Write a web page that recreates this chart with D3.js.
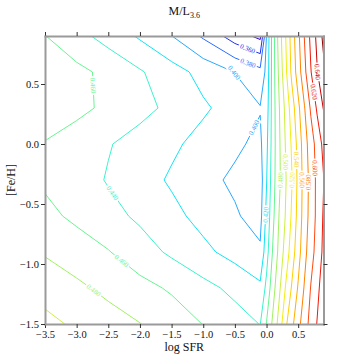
<!DOCTYPE html>
<html>
<head>
<meta charset="utf-8">
<script src="https://cdn.jsdelivr.net/npm/d3@7"></script>
<style>
  body { margin: 0; background: #fff; }
</style>
</head>
<body>
<svg width="360" height="360"></svg>
<script>
// grid of the model: log SFR columns and [Fe/H] rows
const logSFR = [-3.5, -3.0, -2.5, -2.0, -1.5, -1.0, -0.5, -0.1, 0.0, 0.1, 0.2, 0.3, 0.4, 0.5, 0.6, 0.7, 0.8, 0.9];
const feh = [-1.5, -1.2, -0.9, -0.6, -0.3, 0.0, 0.3, 0.6, 0.9];

// M/L(3.6), one array per [Fe/H] row (bottom to top)
const mlFeHm15 = [0.505, 0.497, 0.4885, 0.4805, 0.4705, 0.4595, 0.4485, 0.4395, 0.461, 0.484, 0.508, 0.536, 0.555, 0.574, 0.591, 0.607, 0.621, 0.635];
const mlFeHm12 = [0.493, 0.484, 0.475, 0.466, 0.4575, 0.446, 0.435, 0.424, 0.445, 0.472, 0.496, 0.521, 0.542, 0.562, 0.582, 0.601, 0.615, 0.630];
const mlFeHm09 = [0.478, 0.4695, 0.461, 0.449, 0.4365, 0.4246, 0.413, 0.403, 0.432, 0.462, 0.486, 0.508, 0.530, 0.552, 0.574, 0.592, 0.608, 0.624];
const mlFeHm06 = [0.465, 0.456, 0.4464, 0.4364, 0.4253, 0.4138, 0.402, 0.393, 0.425, 0.455, 0.481, 0.501, 0.523, 0.547, 0.570, 0.588, 0.605, 0.622];
const mlFeHm03 = [0.457, 0.449, 0.4385, 0.428, 0.4175, 0.405, 0.397, 0.390, 0.419, 0.452, 0.476, 0.498, 0.519, 0.545, 0.569, 0.587, 0.605, 0.619];
const mlFeH00 = [0.459, 0.4507, 0.4413, 0.4324, 0.4235, 0.4136, 0.403, 0.396, 0.415, 0.450, 0.477, 0.501, 0.523, 0.547, 0.572, 0.590, 0.608, 0.625];
const mlFeH03 = [0.470, 0.465, 0.456, 0.446, 0.4355, 0.4228, 0.412, 0.401, 0.410, 0.450, 0.479, 0.505, 0.530, 0.555, 0.579, 0.603, 0.623, 0.641];
const mlFeH06 = [0.468, 0.465, 0.455, 0.442, 0.428, 0.4137, 0.3995, 0.386, 0.405, 0.450, 0.485, 0.515, 0.545, 0.570, 0.595, 0.619, 0.639, 0.655];
const mlFeH09 = [0.4605, 0.4465, 0.4324, 0.4173, 0.4003, 0.3771, 0.3497, 0.335, 0.401, 0.450, 0.490, 0.519, 0.549, 0.575, 0.601, 0.625, 0.645, 0.665];

const levels = [0.34, 0.36, 0.38, 0.40, 0.42, 0.44, 0.46, 0.48, 0.50, 0.52, 0.54, 0.56, 0.58, 0.60, 0.62, 0.64, 0.66];
const xTicks = [-3.5, -3.0, -2.5, -2.0, -1.5, -1.0, -0.5, 0.0, 0.5];
const yTicks = [-1.5, -1.0, -0.5, 0.0, 0.5];

// contour labels: [level, log SFR, [Fe/H]] near where the label sits
const labelSpots = [
  [0.46, -2.65, 0.49], [0.44, -2.38, -0.39], [0.46, -2.30, -0.98], [0.48, -2.69, -1.19],
  [0.40, -0.50, 0.60], [0.38, -0.28, 0.69], [0.36, -0.28, 0.82], [0.40, -0.25, 0.15],
  [0.42, 0.00, -0.59], [0.48, 0.20, -0.30], [0.50, 0.34, -0.15], [0.52, 0.40, -0.30],
  [0.54, 0.48, -0.13], [0.56, 0.54, -0.30], [0.58, 0.62, -0.32], [0.60, 0.80, -0.20],
  [0.62, 0.69, 0.43], [0.64, 0.80, 0.60]
];

const svg = d3.select("svg");
const serif = "'Liberation Serif', 'DejaVu Serif', serif";

const x = d3.scaleLinear().domain([-3.5, 0.9]).range([45, 323.5]);
const y = d3.scaleLinear().domain([-1.5, 0.9]).range([324, 36]);

const color = d3.scaleLinear()
  .domain(levels)
  .range(["#3000c0", "#2030f0", "#2a6cff", "#28a8ff", "#10e4f4", "#38f4cc", "#66f690", "#a2f062",
          "#ccf040", "#f2ee10", "#ffd000", "#ffac00", "#ff8000", "#ff4a10", "#f01808", "#c80000", "#8c0000"]);

const defs = svg.append("defs");
defs.append("clipPath").attr("id", "plot")
  .append("rect")
  .attr("x", x.range()[0]).attr("y", y.range()[1])
  .attr("width", x.range()[1] - x.range()[0])
  .attr("height", y.range()[0] - y.range()[1]);

// contours on the (non uniform) grid
const nx = logSFR.length, ny = feh.length;
const grid = [mlFeHm15, mlFeHm12, mlFeHm09, mlFeHm06, mlFeHm03, mlFeH00, mlFeH03, mlFeH06, mlFeH09].flat();
const ix = d3.scaleLinear().domain(d3.range(nx)).range(logSFR).clamp(true);
const iy = d3.scaleLinear().domain(d3.range(ny)).range(feh).clamp(true);
const toPx = ([cx, cy]) => [x(ix(cx - 0.5)), y(iy(cy - 0.5))];

const bands = d3.contours().size([nx, ny]).thresholds(levels)(grid);

const [xl, xr] = x.range(), [yb, yt] = y.range();
const near = (a, b) => Math.abs(a - b) < 0.01;
const onEdge = (a, b) =>
  (near(a[0], xl) && near(b[0], xl)) || (near(a[0], xr) && near(b[0], xr)) ||
  (near(a[1], yb) && near(b[1], yb)) || (near(a[1], yt) && near(b[1], yt));

const segsByLevel = bands.map(band => {
  const segs = [];
  band.coordinates.forEach(poly => poly.forEach(ring => {
    const pts = ring.map(toPx);
    for (let i = 1; i < pts.length; i++) {
      if (!onEdge(pts[i - 1], pts[i])) segs.push([pts[i - 1], pts[i]]);
    }
  }));
  return segs;
});

// a mask per level so labels only break their own line
const masks = levels.map((lev, k) => {
  const m = defs.append("mask").attr("id", "gap" + k)
    .attr("maskUnits", "userSpaceOnUse")
    .attr("x", 0).attr("y", 0).attr("width", 360).attr("height", 360);
  m.append("rect").attr("width", 360).attr("height", 360).attr("fill", "white");
  return m;
});

const lines = svg.append("g").attr("clip-path", "url(#plot)");
segsByLevel.forEach((segs, k) => {
  let d = "", last = null;
  segs.forEach(([a, b]) => {
    if (!last || last[0] !== a[0] || last[1] !== a[1]) d += `M${a[0]},${a[1]}`;
    d += `L${b[0]},${b[1]}`;
    last = b;
  });
  lines.append("path")
    .attr("d", d)
    .attr("fill", "none")
    .attr("stroke", color(levels[k]))
    .attr("stroke-width", 1)
    .attr("mask", `url(#gap${k})`);
});

// labels placed on the nearest point of their contour
const labels = svg.append("g");
labelSpots.forEach(([lev, lx, ly]) => {
  const k = levels.indexOf(lev);
  const p = [x(lx), y(ly)];
  let best = null;
  segsByLevel[k].forEach(([a, b]) => {
    const dx = b[0] - a[0], dy = b[1] - a[1];
    const len2 = dx * dx + dy * dy;
    if (len2 < 1e-6) return;
    let t = ((p[0] - a[0]) * dx + (p[1] - a[1]) * dy) / len2;
    t = Math.max(0, Math.min(1, t));
    const q = [a[0] + t * dx, a[1] + t * dy];
    const dist = Math.hypot(q[0] - p[0], q[1] - p[1]);
    if (!best || dist < best.dist) best = { dist, q, ang: Math.atan2(dy, dx) * 180 / Math.PI };
  });
  if (!best) return;
  let ang = best.ang;
  if (ang > 90) ang -= 180;
  if (ang <= -90) ang += 180;
  const tr = `translate(${best.q[0]},${best.q[1]}) rotate(${ang})`;
  const txt = labels.append("text")
    .attr("transform", tr)
    .attr("text-anchor", "middle")
    .attr("dy", "0.35em")
    .attr("font-family", serif)
    .attr("font-size", 7)
    .attr("fill", color(lev))
    .text(d3.format(".3f")(lev));
  const w = txt.node().getComputedTextLength() + 3;
  masks[k].append("rect")
    .attr("transform", tr)
    .attr("x", -w / 2).attr("y", -4)
    .attr("width", w).attr("height", 8)
    .attr("fill", "black");
});

// frame and ticks on all four sides
const fmt = d3.format(".1f");
const styleAxis = g => {
  g.selectAll(".domain").attr("stroke", "#9a9a9a").attr("stroke-width", 2).attr("stroke-linecap", "square");
  g.selectAll(".tick line").attr("stroke", "#333");
  g.selectAll(".tick text").attr("font-family", serif).attr("font-size", 10.5).attr("fill", "#111");
};

svg.append("g")
  .attr("transform", `translate(0,${yb})`)
  .call(d3.axisBottom(x).tickValues(xTicks).tickFormat(fmt).tickSize(4).tickSizeOuter(0))
  .call(styleAxis);
svg.append("g")
  .attr("transform", `translate(0,${yt})`)
  .call(d3.axisTop(x).tickValues(xTicks).tickFormat("").tickSize(4).tickSizeOuter(0))
  .call(styleAxis);
svg.append("g")
  .attr("transform", `translate(${xl},0)`)
  .call(d3.axisLeft(y).tickValues(yTicks).tickFormat(fmt).tickSize(4).tickPadding(2).tickSizeOuter(0))
  .call(styleAxis);
svg.append("g")
  .attr("transform", `translate(${xr},0)`)
  .call(d3.axisRight(y).tickValues(yTicks).tickFormat("").tickSize(4).tickSizeOuter(0))
  .call(styleAxis);

// titles
const title = svg.append("text")
  .attr("x", (xl + xr) / 2).attr("y", 15)
  .attr("text-anchor", "middle")
  .attr("font-family", serif).attr("font-size", 12).attr("fill", "#111")
  .text("M/L");
title.append("tspan").attr("font-size", 8).attr("dy", 3).text("3.6");

svg.append("text")
  .attr("x", (xl + xr) / 2).attr("y", 351)
  .attr("text-anchor", "middle")
  .attr("font-family", serif).attr("font-size", 12).attr("fill", "#111")
  .text("log SFR");

svg.append("text")
  .attr("transform", `translate(15,${(yb + yt) / 2}) rotate(-90)`)
  .attr("text-anchor", "middle")
  .attr("font-family", serif).attr("font-size", 12).attr("fill", "#111")
  .text("[Fe/H]");
</script>
</body>
</html>
